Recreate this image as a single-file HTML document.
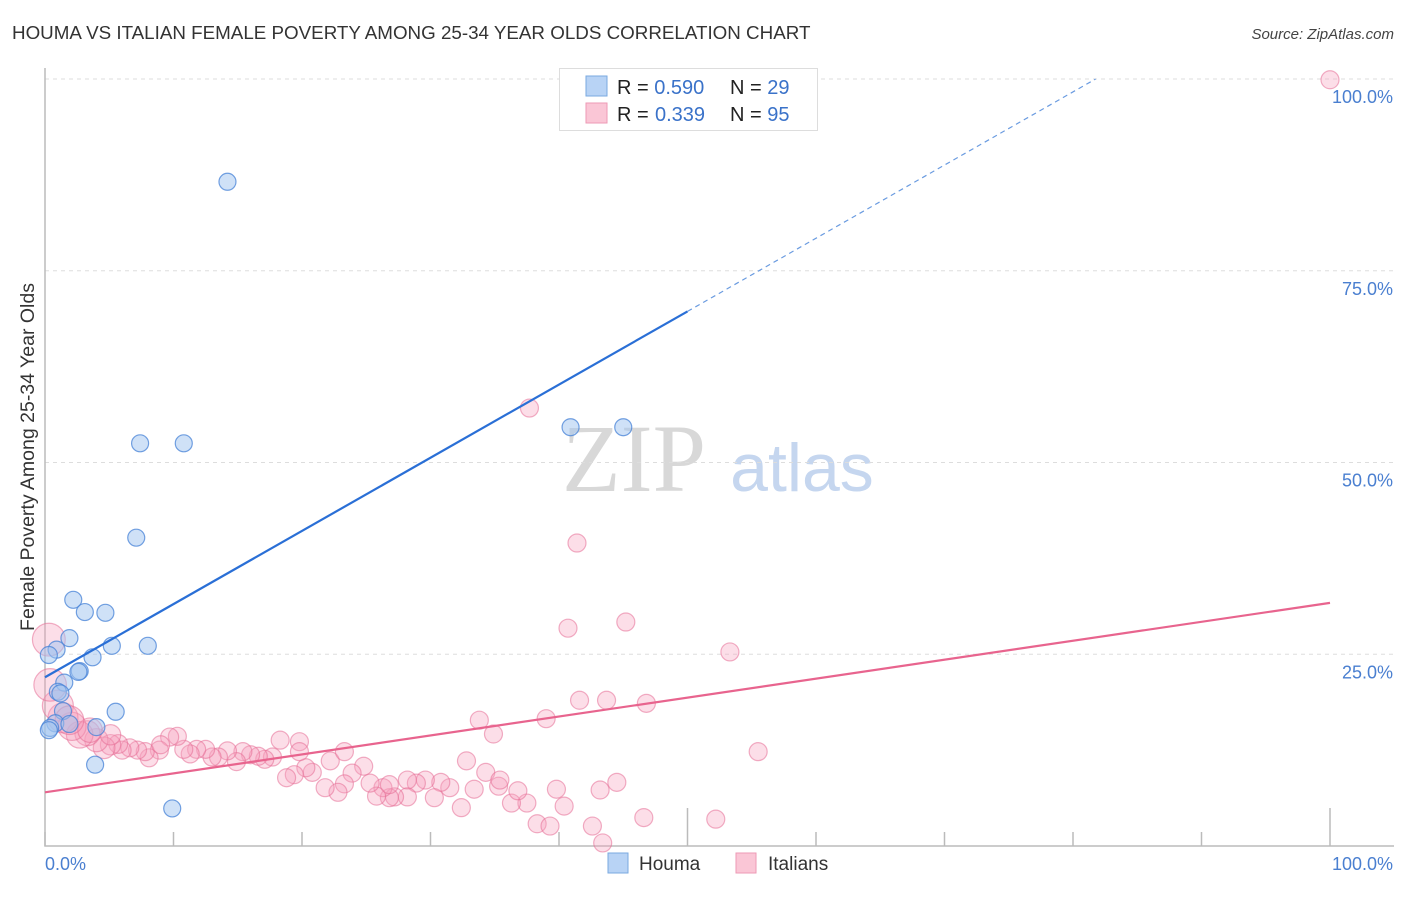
<!DOCTYPE html>
<html><head><meta charset="utf-8"><style>
body{margin:0;background:#fff;font-family:"Liberation Sans",sans-serif}
svg text{font-family:"Liberation Sans",sans-serif}
</style></head><body>
<svg id="chart" width="1406" height="892" xmlns="http://www.w3.org/2000/svg">
<text x="12" y="39" font-size="18.8" fill="#333">HOUMA VS ITALIAN FEMALE POVERTY AMONG 25-34 YEAR OLDS CORRELATION CHART</text>
<text x="1394" y="39" font-size="15" fill="#444" text-anchor="end" font-style="italic">Source: ZipAtlas.com</text>
<text x="34" y="457" font-size="19.5" fill="#333" text-anchor="middle" transform="rotate(-90 34 457)">Female Poverty Among 25-34 Year Olds</text>
<g>
<text x="634" y="491" font-size="96" fill="#d8d8d8" text-anchor="middle" font-family="Liberation Serif" style="font-family:'Liberation Serif',serif">ZIP</text>
<text x="802" y="491" font-size="68" fill="#c5d6ef" text-anchor="middle">atlas</text>
</g>
<g id="grid"></g><g id="axes"></g><g id="pts"></g><g id="lines"></g>
<g>
<rect x="559.5" y="68.5" width="258" height="62" fill="#fff" stroke="#ddd"/>
<rect x="586" y="76" width="21" height="20" fill="#b8d3f5" stroke="#7aaae0"/>
<rect x="586" y="103" width="21" height="20" fill="#fac6d6" stroke="#ee9ab5"/>
<text x="617" y="94" font-size="20" fill="#222">R = <tspan fill="#3a72c9">0.590</tspan><tspan x="730">N = </tspan><tspan fill="#3a72c9">29</tspan></text>
<text x="617" y="121" font-size="20" fill="#222">R = <tspan x="655" fill="#3a72c9">0.339</tspan><tspan x="730">N = </tspan><tspan fill="#3a72c9">95</tspan></text>
</g>
<g>
<rect x="608" y="853" width="20" height="20" fill="#b8d3f5" stroke="#7aaae0"/>
<text x="639" y="870" font-size="19" fill="#333">Houma</text>
<rect x="736" y="853" width="20" height="20" fill="#fac6d6" stroke="#ee9ab5"/>
<text x="768" y="870" font-size="19" fill="#333">Italians</text>
</g>
</svg>
<script>
const yTicks=[25,50,75,100];
const yTickLabels=["25.0%","50.0%","75.0%","100.0%"];
const xTicks=[0,10,20,30,40,50,60,70,80,90,100];
const xEndLabels=["0.0%","100.0%"];
const houmaX=[14.2,7.4,10.8,40.9,45.0,7.1,2.2,3.1,4.7,1.9,0.9,5.2,8.0,3.7,0.3,2.7,2.6,1.5,1.0,1.2,1.4,5.5,0.8,1.9,4.0,0.4,0.3,3.9,9.9];
const houmaY=[86.6,52.5,52.5,54.6,54.6,40.2,32.1,30.5,30.4,27.1,25.6,26.1,26.1,24.6,24.9,22.8,22.7,21.3,20.1,19.9,17.6,17.5,16.0,15.9,15.5,15.4,15.1,10.6,4.9];
const italX=[100,37.7,41.4,40.7,45.2,53.3,41.6,43.7,46.8,39.0,33.8,34.9,55.5,32.8,34.3,44.5,39.8,46.6,52.2,38.3,39.3,42.6,43.4,40.4,37.5,36.3,36.8,35.3,33.4,32.4,31.5,30.8,30.3,29.6,28.9,28.2,28.2,27.2,26.8,26.3,25.8,25.3,24.8,23.9,23.3,22.8,22.2,21.8,20.8,20.3,19.8,19.4,18.8,18.3,17.7,17.1,16.6,16.0,15.4,14.9,14.2,13.5,13.0,12.5,11.8,11.3,10.8,10.3,9.7,8.9,8.1,7.8,7.2,6.6,6.0,5.7,5.1,4.6,4.0,3.3,2.7,2.1,1.4,1.0,0.4,0.3,5.1,3.5,9.0,1.9,19.8,23.3,26.8,35.4,43.2];
const italY=[99.9,57.1,39.5,28.4,29.2,25.3,19.0,19.0,18.6,16.6,16.4,14.6,12.3,11.1,9.6,8.3,7.4,3.7,3.5,2.9,2.6,2.6,0.4,5.2,5.6,5.6,7.2,7.8,7.4,5.0,7.6,8.3,6.3,8.6,8.2,8.6,6.4,6.4,6.3,7.6,6.5,8.2,10.4,9.5,8.1,7.0,11.1,7.6,9.6,10.2,13.6,9.3,8.9,13.8,11.6,11.3,11.7,11.9,12.3,11.0,12.4,11.6,11.6,12.6,12.6,12.0,12.6,14.3,14.2,12.5,11.5,12.3,12.5,12.8,12.5,13.3,13.2,12.8,13.8,14.7,14.5,15.6,16.7,18.3,21.0,26.9,14.5,15.1,13.2,16.4,12.3,12.3,8.0,8.6,7.3];
const houmaTrend=[22.0,0.954];
const italTrend=[7.0,0.247];
const NS="http://www.w3.org/2000/svg";
const X=v=>45+v*12.85, Y=v=>846-v*7.67;
function mk(t,a,p){const e=document.createElementNS(NS,t);for(const k in a)e.setAttribute(k,a[k]);p.appendChild(e);return e;}
const grid=document.getElementById('grid'),axes=document.getElementById('axes'),pts=document.getElementById('pts'),lines=document.getElementById('lines');
yTicks.forEach((t,i)=>{
 const l=mk('line',{x1:45,x2:1394,y1:Y(t),y2:Y(t),stroke:'#ddd','stroke-dasharray':'4,4'},grid);
 
 
 const tx=mk('text',{x:1393,y:Y(t)+24,'font-size':18,fill:'#4a7fd0','text-anchor':'end'},axes);
 tx.textContent=yTickLabels[i];
 
 
});
const ax=mk('path',{d:'M45 68V846H1394',fill:'none',stroke:'#bbb','stroke-width':1.5},axes);


xTicks.forEach(t=>{
 const tall=(t===50||t===100);
 const l=mk('line',{x1:X(t),x2:X(t),y1:tall?808:832,y2:846,stroke:'#bbb','stroke-width':1.5},axes);
 
 
});
[[0,'start',45],[100,'end',1393]].forEach((d,i)=>{
 const tx=mk('text',{x:d[2],y:870,'font-size':18,fill:'#4a7fd0','text-anchor':d[1]},axes);
 tx.textContent=xEndLabels[i];
 
 
});
italX.forEach((x,i)=>{
 const r=x<6?9+(6-x)*1.3:9;
 const c=mk('circle',{cx:X(x),cy:Y(italY[i]),r:r,fill:'rgba(245,160,190,0.35)',stroke:'rgba(230,110,150,0.55)','stroke-width':1.2},pts);
 
 
});
houmaX.forEach((x,i)=>{
 const c=mk('circle',{cx:X(x),cy:Y(houmaY[i]),r:8.5,fill:'rgba(160,195,240,0.5)',stroke:'rgba(70,130,215,0.75)','stroke-width':1.2},pts);
 
 
});
const hEnd=(100-houmaTrend[0])/houmaTrend[1];
const hl=mk('line',{x1:X(0),y1:Y(houmaTrend[0]),x2:X(50),y2:Y(houmaTrend[0]+50*houmaTrend[1]),stroke:'#2a6fd6','stroke-width':2.2},lines);


const hd=mk('line',{x1:X(50),y1:Y(houmaTrend[0]+50*houmaTrend[1]),x2:X(hEnd),y2:Y(100),stroke:'#6a9be0','stroke-width':1.2,'stroke-dasharray':'5,4'},lines);


const il=mk('line',{x1:X(0),y1:Y(italTrend[0]),x2:X(100),y2:Y(italTrend[0]+100*italTrend[1]),stroke:'#e8648e','stroke-width':2.2},lines);


</script>
</body></html>
